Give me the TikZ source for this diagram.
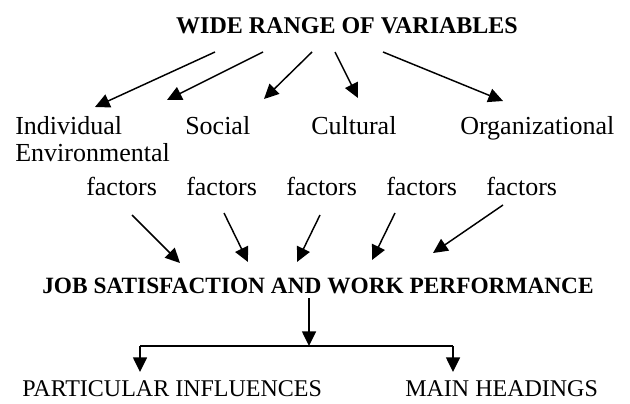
\documentclass[tikz,border=0pt]{standalone}
\usepackage{fontspec}
\setmainfont{Liberation Serif}
\usetikzlibrary{arrows.meta}
\tikzset{
  arr/.style={draw=black, line width=1.1pt, -{Triangle[length=11pt,width=10.5pt]}},
  line/.style={draw=black, line width=1.1pt},
  txt/.style={inner sep=0pt, anchor=base west, font=\fontsize{19.5}{23}\selectfont},
  caps/.style={inner sep=0pt, anchor=base west, font=\fontsize{18}{22}\selectfont},
  head/.style={inner sep=0pt, anchor=base, font=\bfseries\fontsize{18}{22}\selectfont},
}

\begin{document}
\begin{tikzpicture}[x=0.75pt,y=-0.75pt]
  \useasboundingbox (0,0) rectangle (630,403);
  % top heading and its five arrows
  \node[head] (wide) at (347,34) {WIDE RANGE OF VARIABLES};
  \foreach \i/\sx/\ex/\ey in {1/215/95/107,2/263/167/100,3/312/264/99,4/335/358/98,5/383/503/101}{
    \coordinate (ws\i) at (\sx,52);
    \coordinate (we\i) at (\ex,\ey);
    \draw[arr] (ws\i) -- (we\i);
  }
  % the factors
  \node[txt] (ind) at (15,134) {Individual};
  \node[txt] (soc) at (185,134) {Social};
  \node[txt] (cul) at (311,134) {Cultural};
  \node[txt] (org) at (460,134) {Organizational};
  \node[txt] (env) at (15,161) {Environmental};
  \foreach \i/\x in {1/86,2/186,3/286,4/386,5/486}
    \node[txt] (fac\i) at (\x,195) {factors};
  % arrows into the middle heading
  \foreach \i/\sx/\sy/\ex/\ey in {1/132/215/180/263,2/224/213/248/262,3/320/215/297/262,4/395/213/372/260,5/503/205/433/253}{
    \coordinate (fs\i) at (\sx,\sy);
    \coordinate (fe\i) at (\ex,\ey);
    \draw[arr] (fs\i) -- (fe\i);
  }
  \node[head, font=\bfseries\fontsize{17.5}{21}\selectfont] (job) at (318,293) {JOB SATISFACTION AND WORK PERFORMANCE};
  % split into the two headings
  \coordinate (jb) at (309,298);
  \coordinate (split) at (309,346);
  \coordinate (sl) at (140,346);
  \coordinate (sr) at (453,346);
  \coordinate (el) at (140,372);
  \coordinate (er) at (453,372);
  \draw[arr] (jb) -- (split);
  \draw[line] (sl) -- (sr);
  \draw[arr] (sl) -- (el);
  \draw[arr] (sr) -- (er);
  \node[caps] (part) at (22,396) {PARTICULAR INFLUENCES};
  \node[caps] (main) at (405,396) {MAIN HEADINGS};
\end{tikzpicture}
\end{document}
